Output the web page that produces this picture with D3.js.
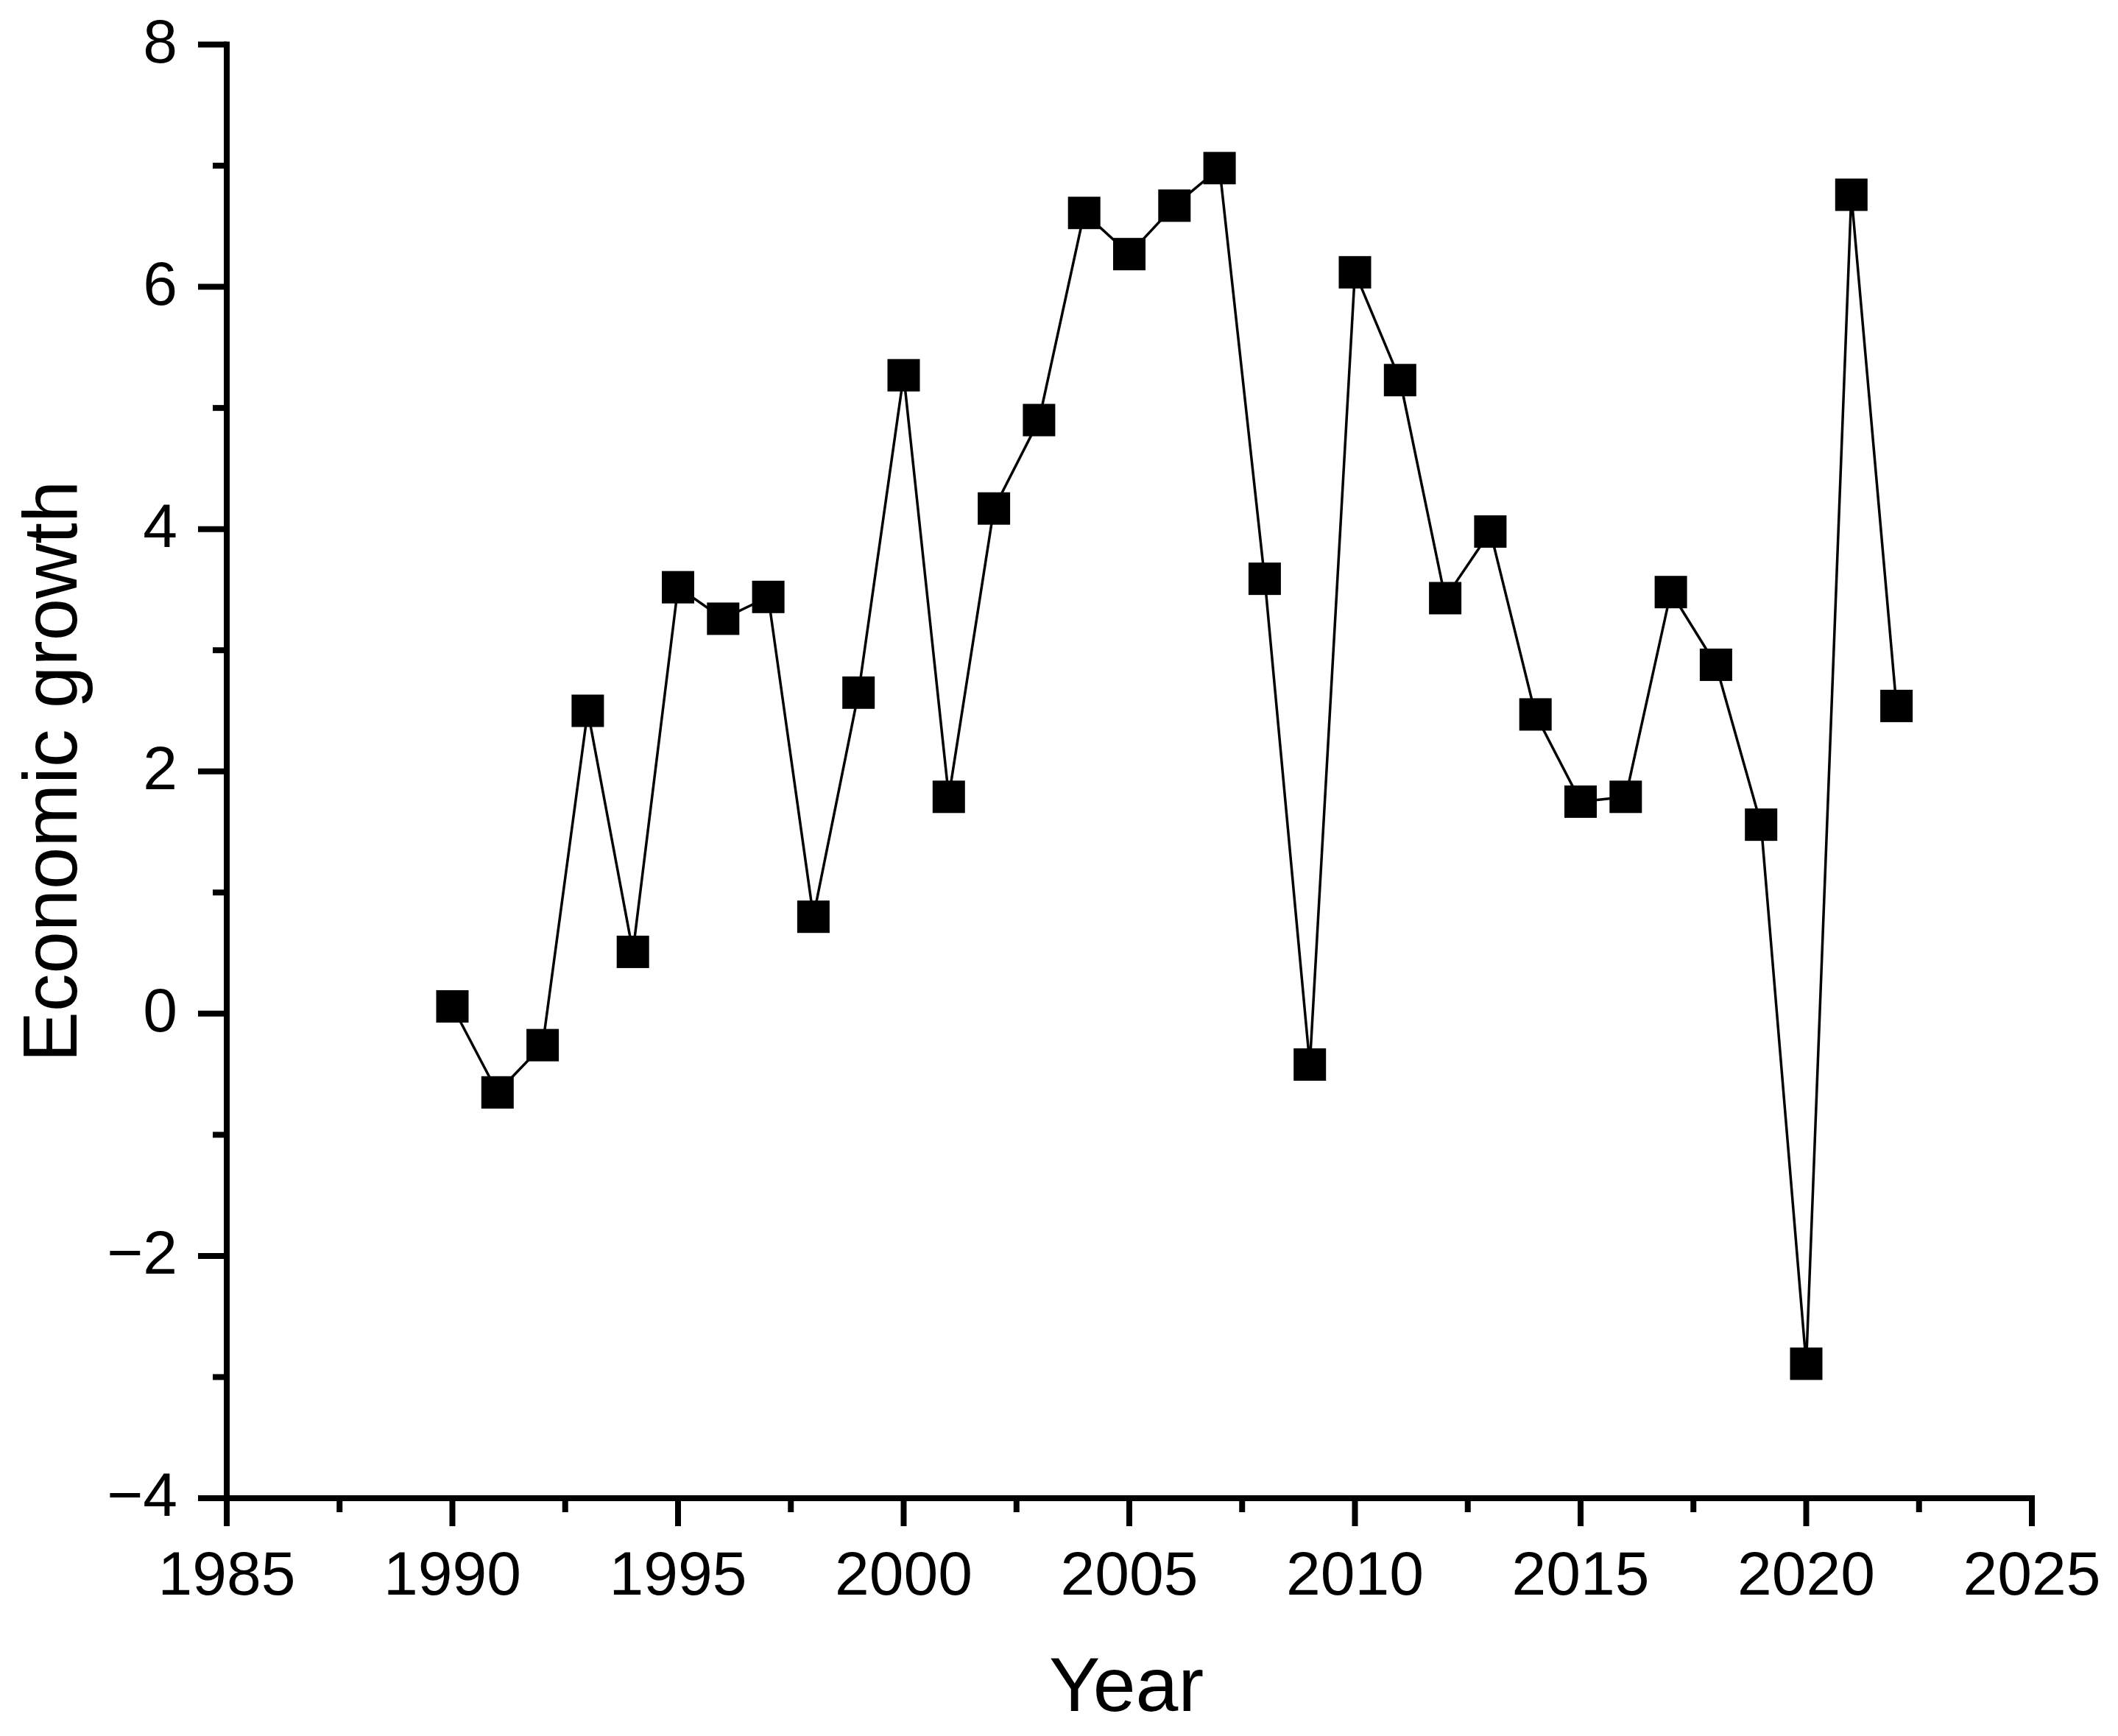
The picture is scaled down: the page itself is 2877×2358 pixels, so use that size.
<!DOCTYPE html>
<html>
<head>
<meta charset="utf-8">
<script src="https://cdn.jsdelivr.net/npm/d3@7"></script>
<style>
  html, body { margin: 0; padding: 0; background: #fff; }
  svg { display: block; }
  text { font-family: "Liberation Sans", Arial, sans-serif; fill: #000; }
</style>
</head>
<body>
<script>
const years = [1990,1991,1992,1993,1994,1995,1996,1997,1998,1999,2000,2001,2002,2003,2004,2005,2006,2007,2008,2009,2010,2011,2012,2013,2014,2015,2016,2017,2018,2019,2020,2021,2022];
const growth = [0.06,-0.65,-0.26,2.50,0.51,3.52,3.26,3.44,0.80,2.65,5.27,1.79,4.17,4.90,6.61,6.27,6.67,6.98,3.59,-0.42,6.12,5.23,3.43,3.98,2.47,1.75,1.79,3.48,2.88,1.56,-2.89,6.76,2.54];
const xTicks = [1985,1990,1995,2000,2005,2010,2015,2020,2025];
const xMinorTicks = [1987.5,1992.5,1997.5,2002.5,2007.5,2012.5,2017.5,2022.5];
const yTicks = [-4,-2,0,2,4,6,8];
const yMinorTicks = [-3,-1,1,3,5,7];
const xTitle = "Year";
const yTitle = "Economic growth";

const W = 2877, H = 2358;
const pLeft = 308, pRight = 2760, pTop = 60.5, pBottom = 2035;

const svg = d3.select("body").append("svg").attr("width", W).attr("height", H);

const x = d3.scaleLinear().domain([1985, 2025]).range([pLeft, pRight]);
const y = d3.scaleLinear().domain([-4, 8]).range([pBottom, pTop]);

const axW = 8;
const g = svg.append("g");

// line
const line = d3.line().x((d,i) => x(years[i])).y(d => y(d));
g.append("path").datum(growth).attr("d", line)
  .attr("fill", "none").attr("stroke", "#000").attr("stroke-width", 3.5);

// markers
const ms = 44;
g.selectAll("rect.m").data(growth).enter().append("rect")
  .attr("x", (d,i) => x(years[i]) - ms/2)
  .attr("y", d => y(d) - ms/2)
  .attr("width", ms).attr("height", ms).attr("fill", "#000");

// axes lines
g.append("line").attr("x1", pLeft).attr("x2", pLeft).attr("y1", pTop - axW/2).attr("y2", pBottom + axW/2)
  .attr("stroke", "#000").attr("stroke-width", axW);
g.append("line").attr("x1", pLeft - axW/2).attr("x2", pRight + axW/2).attr("y1", pBottom).attr("y2", pBottom)
  .attr("stroke", "#000").attr("stroke-width", axW);

// x ticks
g.selectAll("line.xt").data(xTicks).enter().append("line")
  .attr("x1", d => x(d)).attr("x2", d => x(d)).attr("y1", pBottom).attr("y2", pBottom + 38)
  .attr("stroke", "#000").attr("stroke-width", axW);
g.selectAll("line.xmt").data(xMinorTicks).enter().append("line")
  .attr("x1", d => x(d)).attr("x2", d => x(d)).attr("y1", pBottom).attr("y2", pBottom + 19)
  .attr("stroke", "#000").attr("stroke-width", axW);
g.selectAll("text.xl").data(xTicks).enter().append("text")
  .attr("x", d => x(d)).attr("y", 2166).attr("text-anchor", "middle")
  .attr("font-size", 84).text(d => d);

// y ticks
g.selectAll("line.yt").data(yTicks).enter().append("line")
  .attr("x1", pLeft - 39).attr("x2", pLeft).attr("y1", d => y(d)).attr("y2", d => y(d))
  .attr("stroke", "#000").attr("stroke-width", axW);
g.selectAll("line.ymt").data(yMinorTicks).enter().append("line")
  .attr("x1", pLeft - 19).attr("x2", pLeft).attr("y1", d => y(d)).attr("y2", d => y(d))
  .attr("stroke", "#000").attr("stroke-width", axW);
g.selectAll("text.yl").data(yTicks).enter().append("text")
  .attr("x", 241).attr("y", d => y(d) + 24).attr("text-anchor", "end")
  .attr("font-size", 84).text(d => d < 0 ? "\u2212" + Math.abs(d) : d);

// titles
svg.append("text").attr("x", (pLeft + pRight) / 2 - 4).attr("y", 2324).attr("text-anchor", "middle")
  .attr("font-size", 104).text(xTitle);
svg.append("text").attr("transform", `translate(104, ${(pTop + pBottom) / 2}) rotate(-90)`)
  .attr("text-anchor", "middle").attr("font-size", 103).text(yTitle);
</script>
</body>
</html>
